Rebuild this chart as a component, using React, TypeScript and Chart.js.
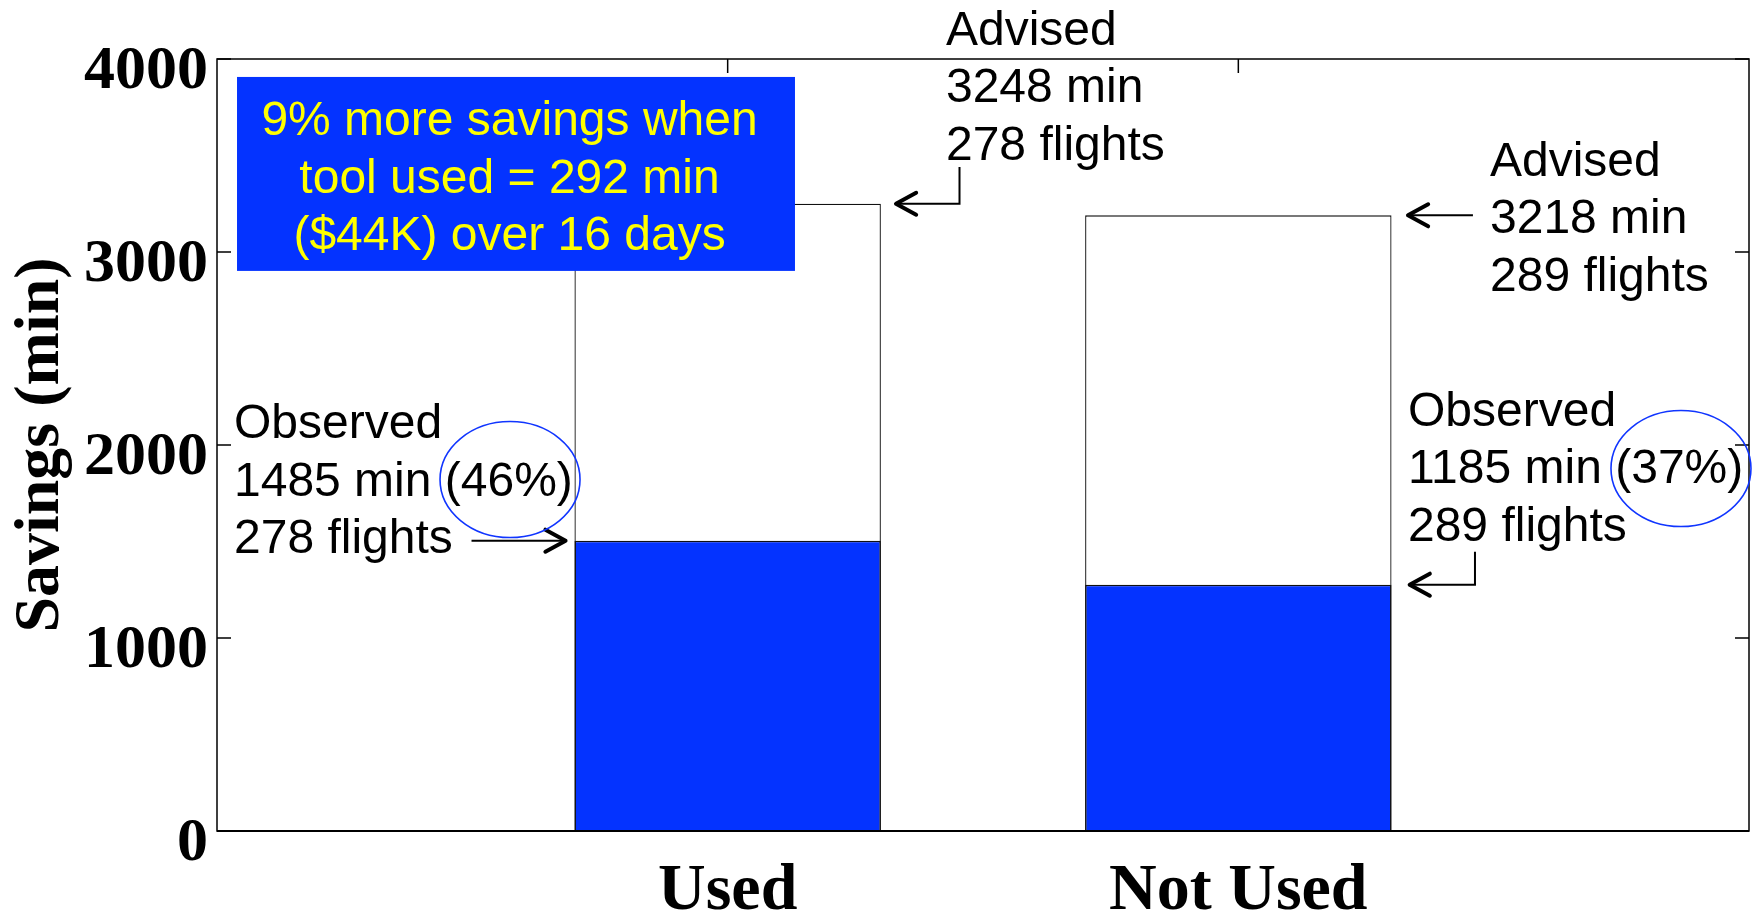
import React, { useEffect, useRef } from 'react';
import { Chart, registerables } from 'chart.js';

Chart.register(...registerables);

// ---- data ----
const categories = ['Used', 'Not Used'];
const advisedBars = [3250, 3190];
const observedBars = [1504, 1276];
const yTicks = [0, 1000, 2000, 3000, 4000];
const advisedLabelMin = [3248, 3218];
const observedLabelMin = [1485, 1185];
const flightCounts = [278, 289];
const observedPct = [46, 37];
const summaryLines = ['9% more savings when', 'tool used = 292 min', '($44K) over 16 days'];

// ---- styles ----
const BLUE = 'rgb(4, 51, 255)';
const SERIF = '"Liberation Serif", "Times New Roman", serif';
const SANS = '"Liberation Sans", Arial, sans-serif';
const ANN_FONT = `48px ${SANS}`;
const PITCH = 57.5;
const TEXT_DY = 4.5;

// annotation anchors in data units (x: category units 0..3, y: minutes)
const annotationLayout = {
  advisedText: [
    { x: 1.4275, y: 4166 },
    { x: 2.4928, y: 3487 },
  ],
  advisedArrow: [
    { cornerX: 1.454, topY: 3440, tipX: 1.3296 },
    { cornerX: 2.4594, topY: null as number | null, tipX: 2.3322 },
  ],
  observedText: [
    { x: 0.0333, y: 2127 },
    { x: 2.3322, y: 2192 },
  ],
  observedArrow: [
    { cornerX: 0.4984, topY: null as number | null, tipX: 0.6826 },
    { cornerX: 2.4634, topY: 1447, tipX: 2.3355 },
  ],
  ellipse: [
    { x: 0.5738, y: 1821 },
    { x: 2.8668, y: 1878 },
  ],
  box: { x0: 0.0392, x1: 1.1318, y0: 3907, y1: 2902, textX: 0.5728, textY: 3697 },
};

function drawArrow(ctx: CanvasRenderingContext2D, pts: [number, number][]) {
  ctx.save();
  ctx.strokeStyle = '#000';
  ctx.lineWidth = 2;
  ctx.beginPath();
  ctx.moveTo(pts[0][0], pts[0][1]);
  for (let i = 1; i < pts.length; i++) ctx.lineTo(pts[i][0], pts[i][1]);
  ctx.stroke();
  const [tx, ty] = pts[pts.length - 1];
  const [fx, fy] = pts[pts.length - 2];
  const ang = Math.atan2(ty - fy, tx - fx);
  const len = 23;
  const spread = 0.5;
  ctx.lineWidth = 4;
  ctx.lineCap = 'round';
  ctx.lineJoin = 'round';
  ctx.beginPath();
  ctx.moveTo(tx - len * Math.cos(ang - spread), ty - len * Math.sin(ang - spread));
  ctx.lineTo(tx, ty);
  ctx.lineTo(tx - len * Math.cos(ang + spread), ty - len * Math.sin(ang + spread));
  ctx.stroke();
  ctx.restore();
}

function drawLines(ctx: CanvasRenderingContext2D, lines: string[], x: number, y: number, align: CanvasTextAlign, color: string) {
  ctx.save();
  ctx.font = ANN_FONT;
  ctx.fillStyle = color;
  ctx.textAlign = align;
  ctx.textBaseline = 'middle';
  lines.forEach((l, i) => ctx.fillText(l, x, y + TEXT_DY + i * PITCH));
  ctx.restore();
}

const overlayPlugin = {
  id: 'overlay',
  afterDatasetsDraw(chart: any) {
    const { ctx, chartArea: a, scales } = chart;
    const xs = scales.x;
    const ys = scales.y;
    const px = (v: number) => xs.getPixelForValue(v);
    const py = (v: number) => ys.getPixelForValue(v);

    // frame + inward ticks
    ctx.save();
    ctx.strokeStyle = '#000';
    ctx.lineWidth = 1.5;
    ctx.strokeRect(a.left, a.top, a.right - a.left, a.bottom - a.top);
    ctx.lineWidth = 2.2;
    ctx.beginPath();
    ctx.moveTo(a.left, a.bottom);
    ctx.lineTo(a.right, a.bottom);
    ctx.stroke();
    ctx.lineWidth = 1.5;
    const tl = 14;
    ctx.beginPath();
    yTicks.forEach((v) => {
      const y = py(v);
      ctx.moveTo(a.left, y);
      ctx.lineTo(a.left + tl, y);
      ctx.moveTo(a.right, y);
      ctx.lineTo(a.right - tl, y);
    });
    categories.forEach((_, i) => {
      const x = px(i + 1);
      ctx.moveTo(x, a.top);
      ctx.lineTo(x, a.top + tl);
    });
    ctx.stroke();
    ctx.restore();

    const L = annotationLayout;

    // summary box
    const bx0 = px(L.box.x0), bx1 = px(L.box.x1), by0 = py(L.box.y0), by1 = py(L.box.y1);
    ctx.save();
    ctx.fillStyle = BLUE;
    ctx.fillRect(bx0, by0, bx1 - bx0, by1 - by0);
    ctx.restore();
    drawLines(ctx, summaryLines, px(L.box.textX), py(L.box.textY), 'center', '#FFFF00');

    // advised labels + arrows
    categories.forEach((_, i) => {
      const t = L.advisedText[i];
      drawLines(ctx, ['Advised', `${advisedLabelMin[i]} min`, `${flightCounts[i]} flights`], px(t.x), py(t.y), 'left', '#000');
      const ar = L.advisedArrow[i];
      const barY = py(advisedBars[i]);
      const pts: [number, number][] = [];
      if (ar.topY !== null) pts.push([px(ar.cornerX), py(ar.topY)]);
      pts.push([px(ar.cornerX), barY]);
      pts.push([px(ar.tipX), barY]);
      drawArrow(ctx, pts);
    });

    // observed labels + arrows + ellipses
    categories.forEach((_, i) => {
      const t = L.observedText[i];
      drawLines(ctx, ['Observed', `${observedLabelMin[i]} min (${observedPct[i]}%)`, `${flightCounts[i]} flights`], px(t.x), py(t.y), 'left', '#000');
      const ar = L.observedArrow[i];
      const barY = py(observedBars[i]);
      const pts: [number, number][] = [];
      if (ar.topY !== null) pts.push([px(ar.cornerX), py(ar.topY)]);
      pts.push([px(ar.cornerX), barY]);
      pts.push([px(ar.tipX), barY]);
      drawArrow(ctx, pts);
      const e = L.ellipse[i];
      ctx.save();
      ctx.strokeStyle = '#1035ff';
      ctx.lineWidth = 1.6;
      ctx.beginPath();
      ctx.ellipse(px(e.x), py(e.y), 70, 58, 0, 0, Math.PI * 2);
      ctx.stroke();
      ctx.restore();
    });
  },
};

export default function App() {
  const ref = useRef<HTMLCanvasElement | null>(null);

  useEffect(() => {
    if (!ref.current) return;
    const chart = new Chart(ref.current, {
      type: 'bar',
      data: {
        datasets: [
          {
            label: 'Observed',
            data: observedBars.map((v, i) => ({ x: i + 1, y: v })),
            backgroundColor: BLUE,
            borderColor: '#111',
            borderWidth: { top: 1.5, left: 1.5, right: 1.5, bottom: 0 },
            barPercentage: 0.6,
            categoryPercentage: 1,
            grouped: false,
            order: 0,
          },
          {
            label: 'Advised',
            data: advisedBars.map((v, i) => ({ x: i + 1, y: v })),
            backgroundColor: '#ffffff',
            borderColor: '#111',
            borderWidth: 1.3,
            barPercentage: 0.6,
            categoryPercentage: 1,
            grouped: false,
            order: 1,
          },
        ],
      } as any,
      options: {
        responsive: false,
        devicePixelRatio: 1,
        animation: false,
        layout: { padding: { top: 59, right: 8, left: 0, bottom: 0 } },
        plugins: { legend: { display: false }, tooltip: { enabled: false } },
        scales: {
          x: {
            type: 'linear',
            min: 0,
            max: 3,
            offset: false,
            grid: { display: false, drawTicks: false, offset: false },
            border: { display: false },
            afterBuildTicks: (s: any) => {
              s.ticks = categories.map((_, i) => ({ value: i + 1 }));
            },
            afterFit: (s: any) => {
              s.height = 83;
            },
            ticks: {
              autoSkip: false,
              maxRotation: 0,
              padding: 21,
              color: '#000',
              font: { family: SERIF, weight: 'bold', size: 66 },
              callback: (v: any) => categories[Number(v) - 1] ?? '',
            },
          },
          y: {
            min: 0,
            max: 4000,
            grid: { display: false, drawTicks: false },
            border: { display: false },
            afterBuildTicks: (s: any) => {
              s.ticks = yTicks.map((v) => ({ value: v }));
            },
            afterFit: (s: any) => {
              s.width = 217;
            },
            ticks: {
              padding: 9,
              labelOffset: 13,
              color: '#000',
              font: { family: SERIF, weight: 'bold', size: 62 },
              callback: (v: any) => String(v),
            },
            title: {
              display: true,
              text: 'Savings (min)',
              color: '#000',
              font: { family: SERIF, weight: 'bold', size: 64, lineHeight: 1 },
              padding: { top: 9, bottom: 0 },
            },
          },
        },
      } as any,
      plugins: [overlayPlugin],
    });
    return () => chart.destroy();
  }, []);

  return (
    <div style={{ position: 'fixed', left: 0, top: 0, width: 1757, height: 914, background: '#fff' }}>
      <canvas ref={ref} width={1757} height={914} style={{ display: 'block', width: 1757, height: 914 }} />
    </div>
  );
}
